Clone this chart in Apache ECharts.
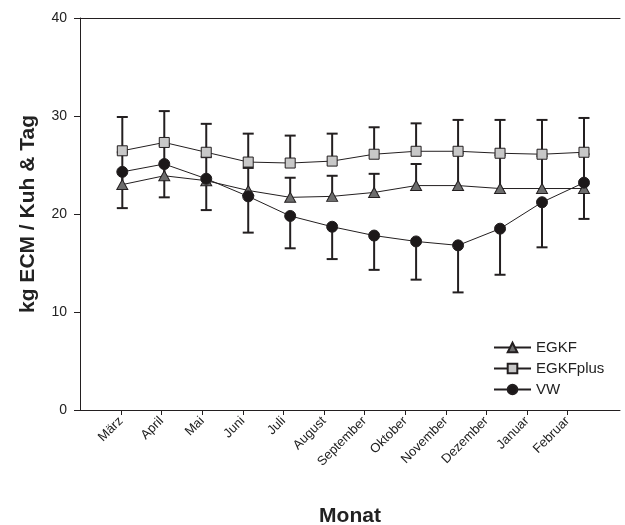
<!DOCTYPE html>
<html><head><meta charset="utf-8">
<script src="https://cdn.jsdelivr.net/npm/echarts@6/dist/echarts.min.js"></script>
<style>html,body{margin:0;padding:0;background:#fff}#c{width:625px;height:525px}</style>
</head><body><div id="c"></div>
<script>
const months = ['März','April','Mai','Juni','Juli','August','September','Oktober','November','Dezember','Januar','Februar'];
const egkf = [23.0,23.9,23.4,22.4,21.7,21.8,22.2,22.9,22.9,22.6,22.6,22.6];
const egkfUpper = [26.3,27.0,25.8,24.7,23.7,23.9,24.1,25.1,26.2,26.0,25.9,26.1];
const egkfplus = [26.45,27.3,26.3,25.3,25.2,25.4,26.1,26.4,26.4,26.2,26.1,26.3];
const egkfplusUpper = [29.9,30.5,29.2,28.2,28.0,28.2,28.85,29.25,29.6,29.6,29.6,29.8];
const vw = [24.3,25.1,23.6,21.8,19.8,18.7,17.8,17.2,16.8,18.5,21.2,23.2];
const vwLower = [20.6,21.7,20.4,18.1,16.5,15.4,14.3,13.3,12.0,13.8,16.6,19.5];
const yTicks = [0,10,20,30,40];

const FONT = 'Liberation Sans, Arial, sans-serif';
const INK = '#231f20';

function errSeries(name, vals, ends){
  return {
    type:'custom', name, xAxisIndex:0, yAxisIndex:0, z:1, silent:true,
    encode:{x:0, y:[1,2]},
    data: vals.map((v,i)=>[i, v, ends[i]]),
    renderItem: (params, api) => {
      const p0 = api.coord([api.value(0), api.value(1)]);
      const p1 = api.coord([api.value(0), api.value(2)]);
      return {type:'group', children:[
        {type:'line', shape:{x1:p0[0],y1:p0[1],x2:p1[0],y2:p1[1]}, style:{stroke:INK, lineWidth:2}},
        {type:'line', shape:{x1:p1[0]-5.5,y1:p1[1],x2:p1[0]+5.5,y2:p1[1]}, style:{stroke:INK, lineWidth:2}}
      ]};
    }
  };
}

function lineSeries(name, vals, symbol, size, fill){
  return {
    type:'line', name, xAxisIndex:0, yAxisIndex:0, z:3,
    data: vals.map((v,i)=>[i, v]),
    symbol, symbolSize:size, showAllSymbol:true,
    lineStyle:{color:INK, width:1},
    itemStyle:{color:fill, borderColor:INK, borderWidth:1},
    emphasis:{disabled:true}, animation:false
  };
}

const chart = echarts.init(document.getElementById('c'), null, {renderer:'canvas'});
chart.setOption({
  animation:false,
  backgroundColor:'#fff',
  textStyle:{fontFamily:FONT},
  grid:[
    {left:80, right:5, top:18, bottom:115, containLabel:false, outerBoundsMode:'none'},
    {left:100.7, right:37.1, top:18, bottom:115, containLabel:false, outerBoundsMode:'none'}
  ],
  legend:{
    orient:'vertical', left:493, top:340, padding:0, itemWidth:37, itemHeight:12, itemGap:6,
    data:['EGKF','EGKFplus','VW'],
    textStyle:{fontSize:15, color:'#222', fontFamily:FONT}
  },
  xAxis:[
    {type:'value', gridIndex:0, min:-1.008, max:11.858, position:'bottom',
     axisLine:{show:true, onZero:false, lineStyle:{color:INK, width:1}}, axisTick:{show:false}, axisLabel:{show:false}, splitLine:{show:false},
     name:'Monat', nameLocation:'middle', nameGap:96,
     nameTextStyle:{fontSize:21, fontWeight:'bold', color:'#222', fontFamily:FONT}},
    {type:'value', gridIndex:0, min:-1.008, max:11.858, position:'top',
     axisLine:{show:true, onZero:false, lineStyle:{color:INK, width:1}}, axisTick:{show:false}, axisLabel:{show:false}, splitLine:{show:false}},
    {type:'category', gridIndex:1, data:months, boundaryGap:true, position:'bottom',
     axisLine:{show:false, onZero:false}, axisTick:{show:true, alignWithLabel:true, length:5, lineStyle:{color:INK, width:1}},
     axisLabel:{rotate:45, fontSize:13, color:'#222', margin:9, interval:0, fontFamily:FONT},
     splitLine:{show:false}}
  ],
  yAxis:[
    {type:'value', gridIndex:0, min:yTicks[0], max:yTicks[yTicks.length-1], interval:10,
     axisLine:{show:true, onZero:false, lineStyle:{color:INK, width:1}}, axisTick:{show:true, length:6, lineStyle:{color:INK}},
     axisLabel:{fontSize:14, color:'#222', margin:13, fontFamily:FONT}, splitLine:{show:false},
     name:'kg ECM / Kuh & Tag', nameLocation:'middle', nameGap:41,
     nameTextStyle:{fontSize:21, fontWeight:'bold', color:'#222', fontFamily:FONT}},
    {type:'value', gridIndex:1, min:0, max:40, show:false}
  ],
  series:[
    errSeries('eb_egkfplus', egkfplus, egkfplusUpper),
    errSeries('eb_egkf', egkf, egkfUpper),
    errSeries('eb_vw', vw, vwLower),
    lineSeries('EGKF', egkf, 'triangle', [11,10], '#6d6d6d'),
    lineSeries('EGKFplus', egkfplus, 'rect', 10, '#c8c8c8'),
    lineSeries('VW', vw, 'circle', 11, '#1c1819')
  ]
});
</script></body></html>
